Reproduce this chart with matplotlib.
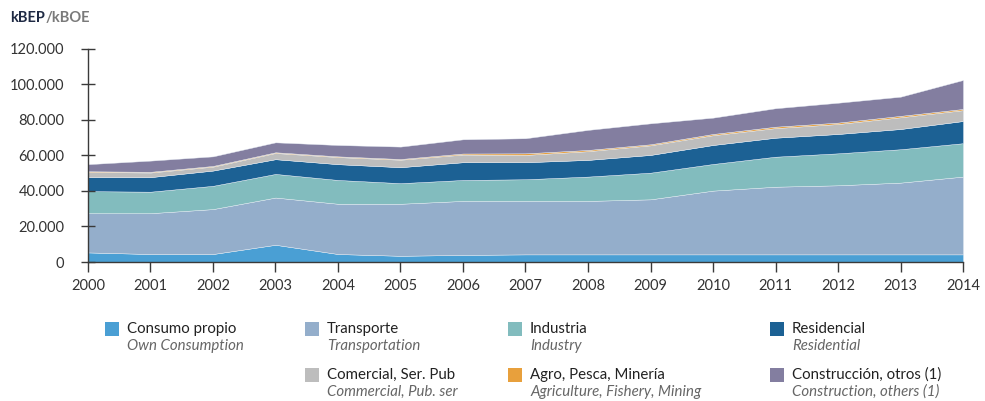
import matplotlib
matplotlib.use("Agg")
import matplotlib.pyplot as plt
from matplotlib.patches import Rectangle

plt.rcParams['font.family'] = ['Lato', 'DejaVu Sans']

years = list(range(2000, 2015))

consumo_propio = [5.4, 4.5, 4.5, 9.7, 4.5, 3.5, 4.0, 4.3, 4.3, 4.3, 4.3, 4.3, 4.3, 4.3, 4.3]
transporte = [22.1, 23.0, 25.3, 26.6, 28.3, 29.3, 30.4, 30.1, 30.1, 31.0, 35.9, 38.1, 38.9, 40.4, 43.8]
industria = [12.4, 12.1, 13.1, 13.3, 13.4, 11.6, 11.8, 12.2, 13.7, 15.0, 15.0, 16.9, 18.0, 18.8, 18.8]
residencial = [7.9, 8.2, 8.6, 8.3, 8.9, 9.0, 10.0, 9.6, 9.4, 10.0, 10.7, 10.7, 10.9, 11.4, 12.5]
comercial = [2.9, 2.6, 2.2, 3.5, 4.0, 4.2, 4.3, 4.1, 4.9, 5.4, 5.5, 5.4, 5.6, 6.6, 6.1]
agro = [0.4, 0.4, 0.4, 0.4, 0.4, 0.4, 0.6, 0.9, 0.7, 0.6, 0.7, 0.8, 0.8, 0.8, 0.7]
construccion = [4.0, 6.3, 5.4, 5.6, 6.4, 7.0, 8.0, 8.5, 11.3, 11.8, 9.2, 10.4, 11.2, 10.8, 16.3]

names_es = ["Consumo propio", "Transporte", "Industria", "Residencial",
            "Comercial, Ser. Pub", "Agro, Pesca, Minería", "Construcción, otros (1)"]
names_en = ["Own Consumption", "Transportation", "Industry", "Residential",
            "Commercial, Pub. ser", "Agriculture, Fishery, Mining", "Construction, others (1)"]
colors = ["#4a9fd4", "#94aecb", "#82bcbe", "#1c6194", "#bdbdbd", "#e8a03c", "#837ea0"]

y_ticks = [0, 20000, 40000, 60000, 80000, 100000, 120000]
y_ticklabels = ["0", "20.000", "40.000", "60.000", "80.000", "100.000", "120.000"]

series = [consumo_propio, transporte, industria, residencial, comercial, agro, construccion]
series = [[v * 1000 for v in s] for s in series]

fig = plt.figure(figsize=(9.85, 4.01), dpi=100)
ax = fig.add_axes([0.0893, 0.3466, 0.8884, 0.5314])

ax.stackplot(years, *series, colors=colors, edgecolor="#e8eef5", linewidth=0.3)

ax.set_xlim(2000, 2014)
ax.set_ylim(0, 120000)
ax.set_xticks(years)
ax.set_xticklabels([str(y) for y in years])
ax.set_yticks(y_ticks)
ax.set_yticklabels(y_ticklabels)

axis_col = "#3a3a3a"
for side in ["top", "right"]:
    ax.spines[side].set_visible(False)
for side in ["left", "bottom"]:
    ax.spines[side].set_color(axis_col)
    ax.spines[side].set_linewidth(1.0)
ax.tick_params(axis="y", direction="inout", length=10, width=1, color=axis_col,
               labelsize=10.5, labelcolor="#333333", pad=12)
ax.tick_params(axis="x", direction="out", length=7, width=1, color=axis_col,
               labelsize=10.5, labelcolor="#333333", pad=5)

# unit header: bold navy "kBEP" followed directly by grey "/kBOE"
unit = fig.text(0.010, 0.955, "kBEP", fontsize=10.5, fontweight="bold", color="#1f2a44",
                va="center", ha="left")
ax.annotate("/kBOE", xy=(1, 0.5), xycoords=unit, xytext=(0.5, 0), textcoords="offset points",
            fontsize=10.5, fontweight="bold", color="#7a7a7a", va="center", ha="left",
            annotation_clip=False)

# bilingual legend, 4 columns x 2 rows
W, H = 985.0, 401.0
col_x = [105, 305, 508, 770]
row_y = [329, 375]
sq = 14
for i, (es, en, c) in enumerate(zip(names_es, names_en, colors)):
    if i < 4:
        cx, ry = col_x[i], row_y[0]
    else:
        cx, ry = col_x[i - 3], row_y[1]
    fig.add_artist(Rectangle((cx / W, 1 - (ry + sq / 2) / H), sq / W, sq / H,
                             transform=fig.transFigure, facecolor=c, edgecolor="none"))
    fig.text((cx + sq + 8) / W, 1 - ry / H, es, fontsize=10.8, color="#222222",
             va="center", ha="left")
    fig.text((cx + sq + 8) / W, 1 - (ry + 17) / H, en, fontsize=10.8, color="#666666",
             style="italic", va="center", ha="left")

fig.savefig("out.png", dpi=100)
